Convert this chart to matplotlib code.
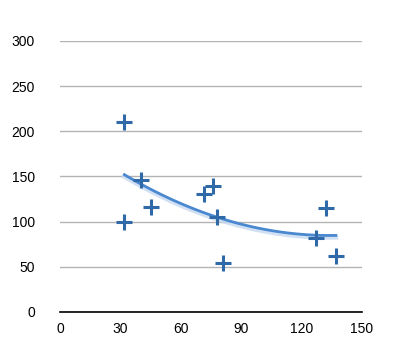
import numpy as np
import matplotlib.pyplot as plt

x = [32, 32, 40, 45, 71.5, 75.8, 77.8, 81, 127, 132, 137]
y = [210, 100, 146, 116, 130, 139.5, 105.5, 54, 81.6, 115, 62]

xticks = [0, 30, 60, 90, 120, 150]
yticks = [0, 50, 100, 150, 200, 250, 300]

plt.rcParams['font.family'] = ['Liberation Sans', 'DejaVu Sans']

fig = plt.figure(figsize=(4, 3.56), dpi=100)
ax = fig.add_axes([0.15, 0.124, 0.755, 0.761])

ax.set_xlim(0, 150)
ax.set_ylim(0, 300)
ax.set_xticks(xticks)
ax.set_yticks(yticks)
ax.grid(axis='y', color='#b3b3b3', lw=1)
ax.set_axisbelow(True)
for s in ['top', 'right', 'left']:
    ax.spines[s].set_visible(False)
ax.spines['bottom'].set_color('black')
ax.spines['bottom'].set_linewidth(1.2)
ax.tick_params(length=0, labelsize=10)
ax.tick_params(axis='y', pad=18)
ax.tick_params(axis='x', pad=7)

# quadratic trend line
c = np.polyfit(x, y, 2)
xs = np.linspace(min(x), max(x), 100)
ys = np.polyval(c, xs)
ax.plot(xs, ys - 2, color='#c6d9f0', lw=3.5, alpha=0.8, zorder=2)
ax.plot(xs, ys, color='#4a88d0', lw=2, zorder=3)

ax.plot(x, y, ls='none', marker='+', ms=11, mew=2.2, color='#2f69a8', zorder=4)

fig.savefig('out.png')
